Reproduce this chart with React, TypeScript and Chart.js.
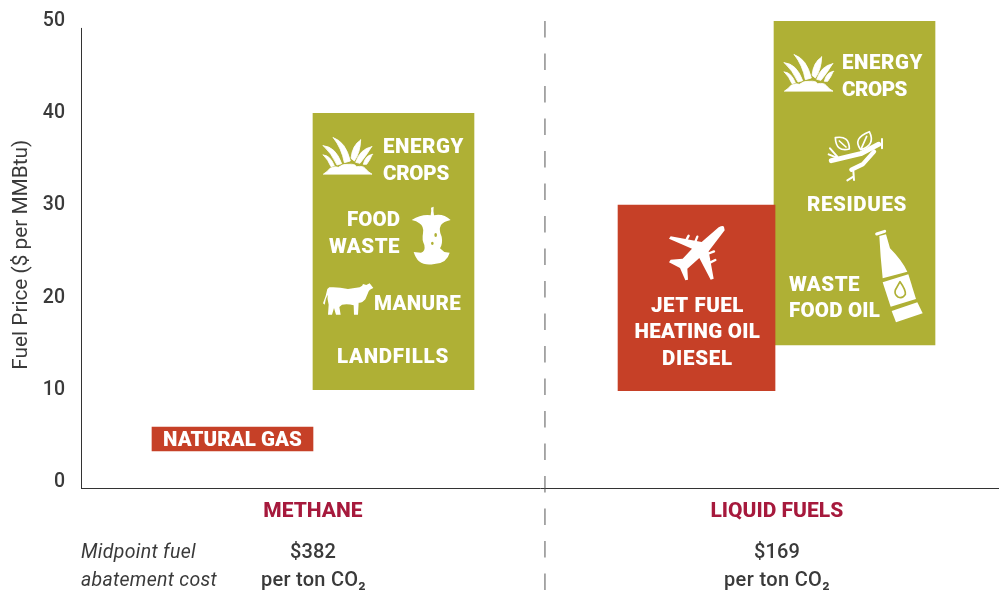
import React, { useEffect, useRef } from "react";
import { Chart, registerables } from "chart.js";

Chart.register(...registerables);

// ---- data ----
const yTickValues = [0, 10, 20, 30, 40, 50];
const groupNames = ["METHANE", "LIQUID FUELS"];
const groupCentres = [25.27, 75.8];
const dividerX = [50.54, 50.54];
const dividerY = [50, -11.7];

const naturalGasRange = [3.41, 6.0];
const methaneBioRange = [10.05, 40];
const liquidFossilRange = [9.95, 30.05];
const liquidBioRange = [14.9, 50];
const barCentres = [16.503, 34.04, 67.05, 84.26];

const GREEN = "#afb035";
const RED = "#c64027";
const DARK = "#3a3a3a";
const WHITE = "#ffffff";

// ---- text placed inside the chart: [text, left, baseline, width] ----
const F = "Roboto, sans-serif";
type T = [string, number, number, number];
const barLabels: T[] = [
  ["NATURAL GAS", 163, 445.5, 139],
  ["ENERGY", 383, 152.5, 81],
  ["CROPS", 383, 180, 66],
  ["FOOD", 347, 226, 53],
  ["WASTE", 329, 252.7, 71],
  ["MANURE", 374, 310, 87],
  ["LANDFILLS", 337, 363.3, 112],
  ["JET FUEL", 651, 311.7, 93],
  ["HEATING OIL", 634.5, 338.3, 125.5],
  ["DIESEL", 662, 365, 71],
  ["ENERGY", 842, 69.3, 81],
  ["CROPS", 842, 96, 65],
  ["RESIDUES", 807, 210.7, 100],
  ["WASTE", 789, 290.7, 71],
  ["FOOD OIL", 789, 317.3, 91],
];
const noteLabels: T[] = [
  ["Midpoint fuel", 81, 558, 115],
  ["abatement cost", 81, 585.7, 136],
];
const costLabels: T[] = [
  ["$382", 290, 558, 46],
  ["per ton CO\u2082", 261, 586, 105],
  ["$169", 754, 558, 46],
  ["per ton CO\u2082", 724, 586, 106],
];

function fitText(ctx: any, [s, x, y, w]: T) {
  ctx.letterSpacing = "0px";
  const m = ctx.measureText(s).width;
  ctx.letterSpacing = (w - m) / s.length + "px";
  ctx.fillText(s, x, y);
  ctx.letterSpacing = "0px";
}

// ---- pictograms, in zoomed (3x) local units ----
function at(ctx: any, ox: number, oy: number, fn: () => void) {
  ctx.save();
  ctx.translate(ox, oy);
  ctx.scale(1 / 3, 1 / 3);
  ctx.fillStyle = WHITE;
  ctx.strokeStyle = WHITE;
  ctx.lineCap = "round";
  ctx.lineJoin = "round";
  fn();
  ctx.restore();
}
const grassPath =
  "M55 38 Q92 50 106 108 L88 113 Q80 70 55 38Z M137 45 Q112 60 108 100 L118 108 Q136 82 137 45Z " +
  "M170 65 Q135 72 122 112 L135 115 Q155 90 170 65Z M172 88 Q150 92 145 118 L155 118 Q165 105 172 88Z " +
  "M25 62 Q62 65 80 116 L66 120 Q50 85 25 62Z M25 90 Q45 90 58 122 L48 125 Q40 105 25 90Z " +
  "M26 147 Q40 138 45 130 Q60 122 70 127 Q85 115 100 118 Q120 116 125 125 Q145 122 150 130 Q160 142 170 147Z";
const grass = (ctx: any) => {
  const p = new Path2D(grassPath);
  ctx.fill(p);
  ctx.lineWidth = 2.5;
  ctx.stroke(p);
};
const apple = (ctx: any) => {
  ctx.fill(
    new Path2D(
      "M20 60 Q50 42 77 46 Q80 32 78 23 L86 20 Q84 34 87 46 Q115 40 137 60 Q115 65 108 75 Q100 90 110 110 Q114 130 105 145 L118 156 L134 158 Q126 190 88 192 Q60 198 42 184 Q32 175 26 156 L48 158 Q62 155 58 135 Q50 120 54 100 Q58 80 43 70 Q35 62 20 60Z"
    )
  );
  ctx.fillStyle = GREEN;
  ctx.beginPath();
  ctx.ellipse(92, 105, 4, 6, 0, 0, 7);
  ctx.ellipse(82, 130, 4, 5, 0, 0, 7);
  ctx.fill();
};
const cow = (ctx: any) =>
  ctx.fill(
    new Path2D(
      "M34 28 Q60 26 90 33 L125 28 Q135 23 135 18 L145 21 L155 16 L166 30 Q152 35 150 45 L142 64 Q130 77 122 74 L120 110 L108 110 L107 82 Q90 77 72 80 L64 87 L68 110 L54 110 L48 90 L42 110 L30 110 L32 80 Q27 62 29 50 Q22 62 20 80 L15 76 Q24 55 28 33Z"
    )
  );
const branch = (ctx: any) => {
  ctx.lineWidth = 15;
  ctx.stroke(new Path2D("M34 107 L122 86 L176 58"));
  ctx.lineWidth = 13;
  ctx.stroke(new Path2D("M94 134 L128 118 L162 80"));
  ctx.lineWidth = 6;
  ctx.stroke(new Path2D("M100 138 L102 165 M82 166 L100 155 M30 70 L52 95 M26 88 L50 98 M186 42 L186 70"));
  ctx.lineWidth = 5;
  ctx.stroke(new Path2D("M46 38 Q88 30 88 72 Q48 82 46 38Z M58 48 L78 66"));
  ctx.stroke(new Path2D("M148 20 Q168 60 122 74 Q96 40 148 20Z M125 68 L140 34"));
};
const plane = (ctx: any) => {
  ctx.fill(
    new Path2D(
      "M192 27 Q190 20 176 28 L125 72 L32 55 L27 62 L96 92 L68 122 L32 125 L27 133 L60 150 L76 187 L84 185 L82 152 L118 120 L152 185 L161 182 L146 100 L194 37Z"
    )
  );
  ctx.lineWidth = 7;
  ctx.stroke(new Path2D("M78 68 L86 53 M104 76 L112 56 M142 108 L162 100 M150 134 L166 126"));
};
const bottle = (ctx: any) => {
  ctx.lineWidth = 9;
  ctx.stroke(new Path2D("M20 27 L44 19"));
  ctx.fill(new Path2D("M28 33 L48 28 L60 70 Q95 105 112 140 L38 160 L32 95Z"));
  ctx.fill(new Path2D("M38 172 L115 148 L138 222 L62 245Z"));
  ctx.fill(new Path2D("M65 258 L142 232 L158 265 L78 292 Z"));
  ctx.strokeStyle = GREEN;
  ctx.lineWidth = 5;
  ctx.stroke(new Path2D("M90 170 Q108 195 106 208 Q98 222 84 216 Q72 208 76 195 Z"));
};

const decorations = {
  id: "decorations",
  beforeDatasetsDraw(chart: any) {
    const { ctx } = chart;
    const xs = chart.scales.x;
    const ys = chart.scales.y;
    ctx.save();
    ctx.strokeStyle = "#333333";
    ctx.lineWidth = 1;
    ctx.beginPath();
    ctx.moveTo(xs.left + 0.5, ys.getPixelForValue(49.25));
    ctx.lineTo(xs.left + 0.5, ys.bottom);
    ctx.stroke();
    ctx.restore();
  },
  afterDatasetsDraw(chart: any) {
    const { ctx } = chart;
    ctx.save();
    ctx.textAlign = "left";
    ctx.textBaseline = "alphabetic";
    ctx.fillStyle = WHITE;
    ctx.font = `900 20.5px ${F}`;
    barLabels.forEach((t) => fitText(ctx, t));
    ctx.fillStyle = DARK;
    ctx.font = `italic 400 19.5px ${F}`;
    noteLabels.forEach((t) => fitText(ctx, t));
    ctx.font = `500 20px ${F}`;
    costLabels.forEach((t) => fitText(ctx, t));
    ctx.restore();
    at(ctx, 315, 125, () => grass(ctx));
    at(ctx, 776, 42, () => grass(ctx));
    at(ctx, 405, 200, () => apple(ctx));
    at(ctx, 318, 278, () => cow(ctx));
    at(ctx, 820, 125, () => branch(ctx));
    at(ctx, 660, 218, () => plane(ctx));
    at(ctx, 870, 225, () => bottle(ctx));
  },
};

const floatBar = (x: number, range: number[], color: string, thickness: number) => ({
  type: "bar" as const,
  data: [{ x, y: range }],
  backgroundColor: color,
  barThickness: thickness,
  grouped: false,
  borderWidth: 0,
});

export default function App() {
  const ref = useRef<HTMLCanvasElement>(null);
  useEffect(() => {
    const chart = new Chart(ref.current as HTMLCanvasElement, {
      type: "bar",
      data: {
        datasets: [
          floatBar(barCentres[2], liquidFossilRange, RED, 157),
          floatBar(barCentres[0], naturalGasRange, RED, 161),
          floatBar(barCentres[1], methaneBioRange, GREEN, 161),
          floatBar(barCentres[3], liquidBioRange, GREEN, 161),
          {
            type: "line" as const,
            data: dividerX.map((x, i) => ({ x, y: dividerY[i] })),
            borderColor: "#555555",
            borderWidth: 1,
            borderDash: [16.5, 16],
            pointRadius: 0,
            clip: false,
          },
        ] as any,
      },
      options: {
        animation: false,
        responsive: false,
        devicePixelRatio: 1,
        layout: { padding: { top: 21, left: 0, right: 0, bottom: 0 } },
        plugins: { legend: { display: false }, tooltip: { enabled: false }, title: { display: false } },
        scales: {
          x: {
            type: "linear",
            offset: false,
            min: 0,
            max: 100,
            grid: { display: false, offset: false },
            border: { display: true, color: "#333333", width: 1 },
            afterBuildTicks: (s: any) => {
              s.ticks = groupCentres.map((value) => ({ value }));
            },
            afterFit: (s: any) => {
              s.height = 103.5;
            },
            ticks: {
              autoSkip: false,
              maxRotation: 0,
              padding: 3,
              color: "#a6193c",
              font: { family: F, size: 21, weight: "800" },
              callback: (v: any) => groupNames[groupCentres.indexOf(v)] ?? "",
            },
          },
          y: {
            type: "linear",
            min: -0.65,
            max: 50,
            grid: { display: false },
            border: { display: false },
            afterBuildTicks: (s: any) => {
              s.ticks = yTickValues.map((value) => ({ value }));
            },
            afterFit: (s: any) => {
              s.width = 81;
              s.paddingTop = 0;
              s.paddingBottom = 0;
            },
            ticks: {
              autoSkip: false,
              padding: 8,
              color: DARK,
              font: { family: F, size: 19.5, weight: "500" },
            },
            title: {
              display: true,
              text: "Fuel Price ($ per MMBtu)",
              color: DARK,
              font: { family: F, size: 20.8, weight: "400" },
              padding: { top: 9, bottom: 0 },
            },
          },
        },
      } as any,
      plugins: [decorations],
    });
    return () => chart.destroy();
  }, []);
  return (
    <div style={{ position: "fixed", left: 0, top: 0, width: 999, height: 592, background: "#fff" }}>
      <canvas ref={ref} width={999} height={592} style={{ display: "block" }} />
    </div>
  );
}
